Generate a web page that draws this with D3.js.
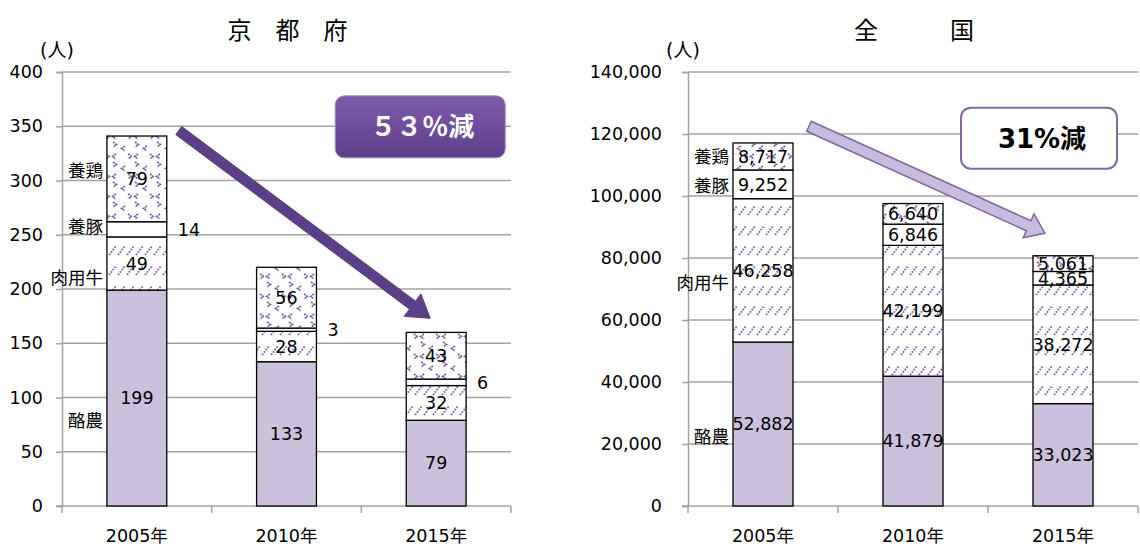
<!DOCTYPE html>
<html>
<head>
<meta charset="utf-8">
<script src="https://cdn.jsdelivr.net/npm/d3@7/dist/d3.min.js"></script>
<style>
  html, body { margin: 0; padding: 0; background: #fff; }
  svg { display: block; }
  text { font-family: "DejaVu Sans", "Noto Sans CJK JP", sans-serif; fill: #000; }
</style>
</head>
<body>
<svg id="chart" width="1140" height="547"></svg>
<script>
// Livestock farmers by type: Kyoto Prefecture and nationwide
const years = ["2005年", "2010年", "2015年"];
const seriesNames = ["酪農", "肉用牛", "養豚", "養鶏"];

const kyotoDairy   = [199, 133, 79];
const kyotoBeef    = [49, 28, 32];
const kyotoPig     = [14, 3, 6];
const kyotoPoultry = [79, 56, 43];

const nationDairy   = [52882, 41879, 33023];
const nationBeef    = [46258, 42199, 38272];
const nationPig     = [9252, 6846, 4365];
const nationPoultry = [8717, 6640, 5061];

const kyotoTicks  = [0, 50, 100, 150, 200, 250, 300, 350, 400];
const nationTicks = [0, 20000, 40000, 60000, 80000, 100000, 120000, 140000];

const kyotoTitle  = "京　都　府";
const nationTitle = "全　　　国";
const unitLabel   = "(人)";
const kyotoChange  = "５３％減";
const nationChange = "31%減";

const svg = d3.select("#chart");
const defs = svg.append("defs");

// Fill patterns
const diag = defs.append("pattern").attr("id", "pat-beef")
  .attr("patternUnits", "userSpaceOnUse").attr("width", 9).attr("height", 20);
diag.append("rect").attr("width", 9).attr("height", 20).attr("fill", "#fff");
diag.append("line").attr("x1", 1).attr("y1", 15).attr("x2", 8).attr("y2", 6)
  .attr("stroke", "#7f66aa").attr("stroke-width", 1.8).attr("stroke-dasharray", "1.8,1.2");

const chev = defs.append("pattern").attr("id", "pat-poultry")
  .attr("patternUnits", "userSpaceOnUse").attr("width", 22).attr("height", 20);
chev.append("rect").attr("width", 22).attr("height", 20).attr("fill", "#fff");
const chevrons = [
  [3, 2, 1], [15, 6, -1], [18, 14, 1], [6, 14, -1]
];
chevrons.forEach(([cx, cy, dir]) => {
  const w = 3.5 * dir;
  chev.append("path")
    .attr("d", `M${cx},${cy} L${cx + w},${cy + 2.5} L${cx},${cy + 5}`)
    .attr("fill", "none").attr("stroke", "#7458a2").attr("stroke-width", 1.7)
    .attr("stroke-dasharray", "2,0.8");
});

const grad = defs.append("linearGradient").attr("id", "grad-box")
  .attr("x1", 0).attr("y1", 0).attr("x2", 0).attr("y2", 1);
grad.append("stop").attr("offset", "0%").attr("stop-color", "#7f5caa");
grad.append("stop").attr("offset", "100%").attr("stop-color", "#5d3d88");

const fills = ["#cbc1dd", "url(#pat-beef)", "#ffffff", "url(#pat-poultry)"];

function arrowPoints(x1, y1, x2, y2, shaftW, headW, headL) {
  const dx = x2 - x1, dy = y2 - y1;
  const len = Math.hypot(dx, dy);
  const ux = dx / len, uy = dy / len;
  const nx = -uy, ny = ux;
  const bx = x2 - ux * headL, by = y2 - uy * headL;
  const p = (x, y) => [x, y];
  return [
    p(x1 + nx * shaftW / 2, y1 + ny * shaftW / 2),
    p(bx + nx * shaftW / 2, by + ny * shaftW / 2),
    p(bx + nx * headW / 2, by + ny * headW / 2),
    p(x2, y2),
    p(bx - nx * headW / 2, by - ny * headW / 2),
    p(bx - nx * shaftW / 2, by - ny * shaftW / 2),
    p(x1 - nx * shaftW / 2, y1 - ny * shaftW / 2)
  ].map(d => d.join(",")).join(" ");
}

function drawChart(cfg) {
  const rows = years.map((yr, i) => ({
    year: yr,
    "酪農": cfg.values[0][i],
    "肉用牛": cfg.values[1][i],
    "養豚": cfg.values[2][i],
    "養鶏": cfg.values[3][i]
  }));
  const stacked = d3.stack().keys(seriesNames)(rows);

  const x = d3.scaleBand().domain(years).range([cfg.left, cfg.right])
    .paddingInner(0.6).paddingOuter(0.3);
  const y = d3.scaleLinear().domain([0, cfg.ticks[cfg.ticks.length - 1]]).range([506, 72]);
  const g = svg.append("g");

  // Horizontal gridlines
  g.append("g").selectAll("line").data(cfg.ticks.slice(1)).join("line")
    .attr("x1", cfg.left).attr("x2", cfg.right)
    .attr("y1", d => y(d)).attr("y2", d => y(d))
    .attr("stroke", "#a3a3a3").attr("stroke-width", 1.5);

  // Value axis
  const yAxis = g.append("g").attr("transform", `translate(${cfg.left},0)`)
    .call(d3.axisLeft(y).tickValues(cfg.ticks).tickSize(6)
      .tickPadding(cfg.tickPad).tickFormat(d3.format(",")));
  yAxis.select(".domain").attr("stroke", "#a3a3a3").attr("stroke-width", 1.5);
  yAxis.selectAll(".tick line").attr("stroke", "#a3a3a3").attr("stroke-width", 1.5);
  yAxis.selectAll(".tick text").attr("font-size", 17.5)
    .attr("font-family", "DejaVu Sans").attr("fill", "#000");

  // Category axis
  const step = x.step(), bw = x.bandwidth();
  const bounds = years.map(d => x(d) - (step - bw) / 2).concat([cfg.right]);
  g.append("line").attr("x1", cfg.left - 6).attr("x2", cfg.right)
    .attr("y1", y(0)).attr("y2", y(0)).attr("stroke", "#a3a3a3").attr("stroke-width", 1.5);
  g.append("g").selectAll("line").data(bounds).join("line")
    .attr("x1", d => d).attr("x2", d => d).attr("y1", y(0)).attr("y2", y(0) + 7)
    .attr("stroke", "#a3a3a3").attr("stroke-width", 1.5);
  g.append("g").selectAll("text").data(years).join("text")
    .attr("x", d => x(d) + bw / 2).attr("y", 542)
    .attr("text-anchor", "middle").attr("font-size", 17.5).text(d => d);

  // Stacked bars
  stacked.forEach((layer, si) => {
    g.append("g").selectAll("rect").data(layer).join("rect")
      .attr("x", d => x(d.data.year)).attr("width", bw)
      .attr("y", d => y(d[1])).attr("height", d => y(d[0]) - y(d[1]))
      .attr("fill", fills[si]).attr("stroke", "#000").attr("stroke-width", 1.3);
  });

  // Value labels
  stacked.forEach((layer, si) => {
    const outside = cfg.outsideSeries === si;
    g.append("g").selectAll("text").data(layer).join("text")
      .attr("x", d => outside ? x(d.data.year) + bw + 11 : x(d.data.year) + bw / 2)
      .attr("y", d => y((d[0] + d[1]) / 2))
      .attr("dy", "0.36em")
      .attr("text-anchor", outside ? "start" : "middle")
      .attr("font-size", 17.5)
      .text(d => d3.format(",")(d[1] - d[0]));
  });

  // Series names beside the first bar
  const first = stacked.map(layer => layer[0]);
  g.append("g").selectAll("text").data(first).join("text")
    .attr("x", x(years[0]) - 4)
    .attr("y", (d, i) => y((d[0] + d[1]) / 2) + cfg.nameShift[i])
    .attr("dy", "0.36em").attr("text-anchor", "end")
    .attr("font-family", "Noto Sans CJK JP").attr("font-size", 17.5)
    .text((d, i) => seriesNames[i]);

  // Title and unit
  g.append("text").attr("x", (cfg.left + cfg.right) / 2 + 1).attr("y", 30)
    .attr("dy", "0.36em").attr("text-anchor", "middle")
    .attr("font-family", "Noto Sans CJK JP").attr("font-size", 24)
    .text(cfg.title);
  g.append("text").attr("x", cfg.left - 5).attr("y", 50)
    .attr("dy", "0.36em").attr("text-anchor", "middle")
    .attr("font-size", 19).text(unitLabel);

  return { x, y, g, bw };
}

// Kyoto Prefecture
const kyoto = drawChart({
  left: 62, right: 511, ticks: kyotoTicks, tickPad: 13,
  values: [kyotoDairy, kyotoBeef, kyotoPig, kyotoPoultry],
  outsideSeries: 2, nameShift: [23, 14, -3, -8], title: kyotoTitle
});
{
  const { x, y, g, bw } = kyoto;
  g.append("polygon")
    .attr("points", arrowPoints(x(years[0]) + bw + 12, y(346), x(years[2]) + bw * 0.4, y(173), 10, 28, 22))
    .attr("fill", "#5c3f87").attr("stroke", "#543a7d").attr("stroke-width", 1);
  const bx0 = x(years[2]) - 71, by0 = y(378), bwid = 170, bh = 62;
  g.append("rect").attr("x", bx0).attr("y", by0).attr("width", bwid).attr("height", bh)
    .attr("rx", 9).attr("fill", "url(#grad-box)").attr("stroke", "#a08bc4").attr("stroke-width", 1);
  g.append("text").attr("x", bx0 + bwid / 2 + 2).attr("y", by0 + bh / 2)
    .attr("dy", "0.36em").attr("text-anchor", "middle")
    .attr("font-family", "Noto Sans CJK JP").attr("font-weight", 700)
    .attr("font-size", 26).style("fill", "#fff").text(kyotoChange);
}

// Nationwide
const nation = drawChart({
  left: 688, right: 1138, ticks: nationTicks, tickPad: 20,
  values: [nationDairy, nationBeef, nationPig, nationPoultry],
  outsideSeries: -1, nameShift: [13, 12, 1, 0], title: nationTitle
});
{
  const { x, y, g, bw } = nation;
  g.append("polygon")
    .attr("points", arrowPoints(x(years[0]) + bw + 16, y(122500), x(years[2]) + bw * 0.2, y(88000), 11, 26, 18))
    .attr("fill", "#c8bcdc").attr("stroke", "#7d62a6").attr("stroke-width", 1.5);
  const bx0 = x(years[2]) - 72, by0 = y(128500), bwid = 156, bh = 61;
  g.append("rect").attr("x", bx0).attr("y", by0).attr("width", bwid).attr("height", bh)
    .attr("rx", 10).attr("fill", "#fff").attr("stroke", "#8068a8").attr("stroke-width", 2);
  g.append("text").attr("x", bx0 + bwid / 2 + 3).attr("y", by0 + bh / 2)
    .attr("dy", "0.36em").attr("text-anchor", "middle")
    .attr("font-weight", 700).attr("font-size", 26).text(nationChange);
}
</script>
</body>
</html>
